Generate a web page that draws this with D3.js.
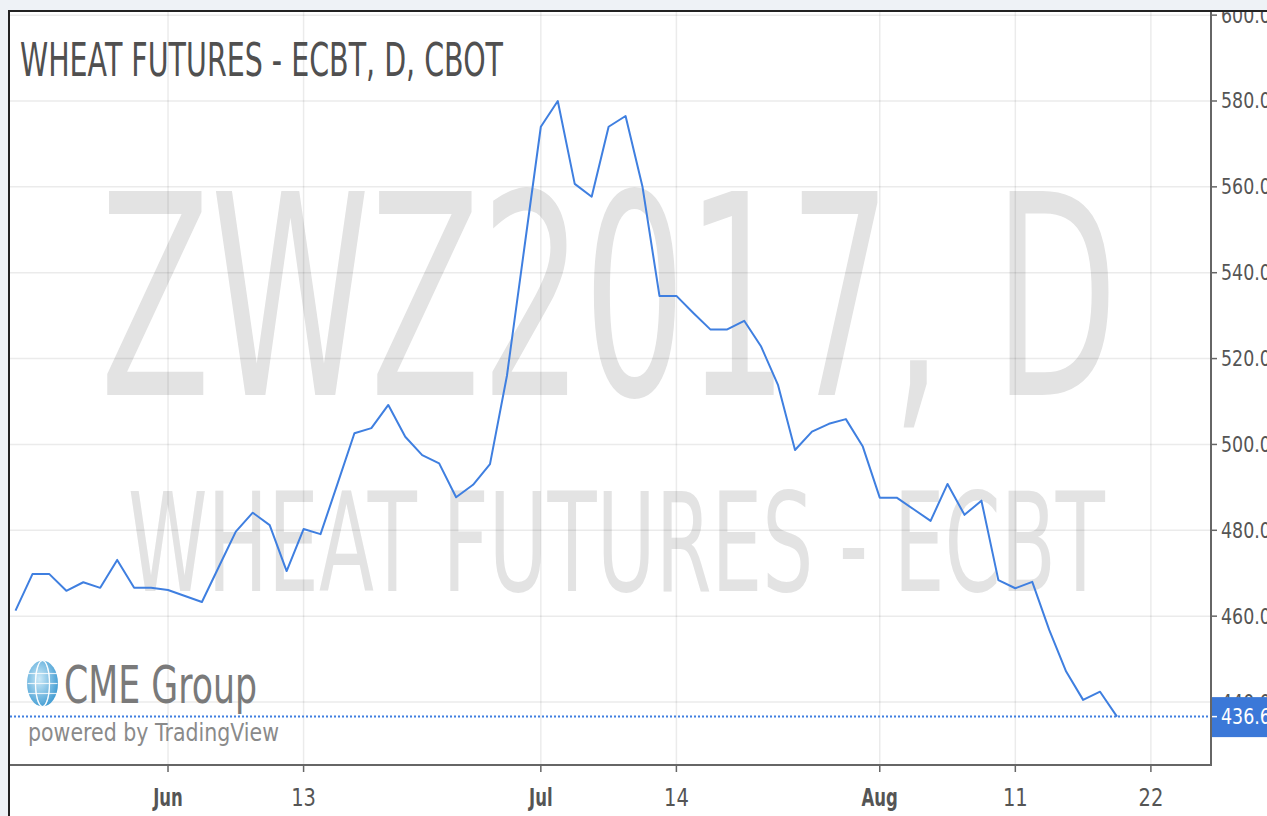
<!DOCTYPE html>
<html>
<head>
<meta charset="utf-8">
<script src="https://cdn.jsdelivr.net/npm/d3@7"></script>
<style>
  html, body { margin: 0; padding: 0; background: #fff; }
  svg { display: block; }
</style>
</head>
<body>
<div id="chart"></div>
<script>
// daily closes, one per trading session
var prices = [
  461.3, 469.8, 469.8, 465.9, 467.9, 466.6, 473.1, 466.6, 466.6, 466.1,
  464.7, 463.3, 471.5, 479.7, 484.1, 481.2, 470.5, 480.3, 479.1, 490.8,
  502.6, 503.8, 509.2, 501.8, 497.5, 495.6, 487.7, 490.6, 495.4, 516.0,
  545.0, 574.0, 580.0, 560.7, 557.7, 574.0, 576.5, 560.0, 534.6, 534.6,
  530.6, 526.8, 526.8, 528.8, 522.8, 513.8, 498.7, 503.0, 504.8, 505.9,
  499.5, 487.6, 487.6, 484.9, 482.2, 490.8, 483.6, 486.9, 468.4, 466.5,
  468.0, 456.8, 447.1, 440.5, 442.4, 436.6
];

// time axis ticks (session index) and their labels
var xTickIndex = [9, 17, 31, 39, 51, 59, 67];
var xTickLabels = ["Jun", "13", "Jul", "14", "Aug", "11", "22"];

// price axis ticks
var yTicks = [440, 460, 480, 500, 520, 540, 560, 580, 600];

var titleText = "WHEAT FUTURES - ECBT, D, CBOT",
    symbolMark = "ZWZ2017, D",
    nameMark = "WHEAT FUTURES - ECBT";

var W = 1267, H = 816;
var plot = {left: 10, top: 12, right: 1211, bottom: 765};

var svg = d3.select("#chart")
            .append("svg")
              .attr("width", W)
              .attr("height", H);

var lineBlue = "#3f7fe0",
    textGray = "#555";

// page background strips
svg.append("rect")
   .attr("width", W).attr("height", H)
   .attr("fill", "#eef2f6");
svg.append("rect")
   .attr("x", plot.left).attr("y", plot.top)
   .attr("width", W - plot.left).attr("height", H - plot.top)
   .attr("fill", "#fff");

var defs = svg.append("defs");
// labels on the price scale are cut at the top frame
defs.append("clipPath")
    .attr("id", "scale-clip")
  .append("rect")
    .attr("x", plot.right).attr("y", plot.top)
    .attr("width", W - plot.right).attr("height", H - plot.top);

// scales
var x = d3.scaleLinear()
          .domain([0, prices.length - 1])
          .range([15.5, 1117]);

var y = d3.scaleLinear()
          .domain([425.33, 600.73])
          .range([plot.bottom, plot.top]);

// watermarks
svg.append("text")
   .attr("x", 100).attr("y", 395)
   .attr("font-family", "DejaVu Sans")
   .attr("font-size", 280)
   .attr("textLength", 1018)
   .attr("lengthAdjust", "spacingAndGlyphs")
   .attr("fill", "#e3e3e3")
   .text(symbolMark);

svg.append("text")
   .attr("x", 128).attr("y", 591)
   .attr("font-family", "DejaVu Sans")
   .attr("font-size", 137)
   .attr("textLength", 977)
   .attr("lengthAdjust", "spacingAndGlyphs")
   .attr("fill", "#e3e3e3")
   .text(nameMark);

// grid
var grid = svg.append("g").attr("class", "grid");

grid.selectAll(".vgrid")
    .data(xTickIndex)
  .enter().append("line")
    .attr("x1", function(d) { return x(d); })
    .attr("x2", function(d) { return x(d); })
    .attr("y1", plot.top)
    .attr("y2", plot.bottom)
    .attr("stroke", "rgba(0,0,0,0.08)")
    .attr("stroke-width", 1.5);

grid.selectAll(".hgrid")
    .data(yTicks)
  .enter().append("line")
    .attr("x1", plot.left)
    .attr("x2", plot.right)
    .attr("y1", function(d) { return y(d); })
    .attr("y2", function(d) { return y(d); })
    .attr("stroke", "rgba(0,0,0,0.08)")
    .attr("stroke-width", 1.5);

// title
svg.append("text")
   .attr("x", 20).attr("y", 76)
   .attr("font-family", "DejaVu Sans")
   .attr("font-size", 47)
   .attr("textLength", 483)
   .attr("lengthAdjust", "spacingAndGlyphs")
   .attr("fill", "#505050")
   .text(titleText);

// CME logo
var grad = defs.append("radialGradient")
               .attr("id", "globe")
               .attr("cx", "40%").attr("cy", "40%").attr("r", "65%");
grad.append("stop").attr("offset", "0%").attr("stop-color", "#cdeaf8");
grad.append("stop").attr("offset", "100%").attr("stop-color", "#3f9bd2");

var logo = svg.append("g").attr("transform", "translate(42.5,683.5)");
logo.append("ellipse")
    .attr("rx", 15.5).attr("ry", 23)
    .attr("fill", "url(#globe)");
[-10, 0, 10].forEach(function(v) {
  logo.append("line")
      .attr("x1", -15).attr("x2", 15).attr("y1", v).attr("y2", v)
      .attr("stroke", "#fff").attr("stroke-width", 1.2).attr("opacity", 0.8);
});
[-7, 7].forEach(function(v) {
  logo.append("ellipse")
      .attr("rx", Math.abs(v)).attr("ry", 23)
      .attr("fill", "none")
      .attr("stroke", "#fff").attr("stroke-width", 1.2).attr("opacity", 0.8);
});

svg.append("text")
   .attr("x", 64).attr("y", 703)
   .attr("font-family", "DejaVu Sans")
   .attr("font-size", 51)
   .attr("textLength", 193)
   .attr("lengthAdjust", "spacingAndGlyphs")
   .attr("fill", "#7a7a7a")
   .text("CME Group");

svg.append("text")
   .attr("x", 28).attr("y", 741)
   .attr("font-family", "DejaVu Sans")
   .attr("font-size", 25)
   .attr("textLength", 251)
   .attr("lengthAdjust", "spacingAndGlyphs")
   .attr("fill", "#8a8a8a")
   .text("powered by TradingView");

// price series
var line = d3.line()
             .x(function(d, i) { return x(i); })
             .y(function(d) { return y(d); });

svg.append("path")
   .datum(prices)
   .attr("d", line)
   .attr("fill", "none")
   .attr("stroke", lineBlue)
   .attr("stroke-width", 2)
   .attr("stroke-linejoin", "round");

// last price dotted line
var last = prices[prices.length - 1];
svg.append("line")
   .attr("x1", plot.left).attr("x2", plot.right)
   .attr("y1", y(last)).attr("y2", y(last))
   .attr("stroke", lineBlue)
   .attr("stroke-width", 2)
   .attr("stroke-dasharray", "2,2");

// right price axis
var yAxis = svg.append("g")
               .attr("class", "axis axis-y")
               .attr("clip-path", "url(#scale-clip)");

var yTick = yAxis.selectAll(".tick")
                 .data(yTicks)
               .enter().append("g")
                 .attr("class", "tick")
                 .attr("transform", function(d) { return "translate(" + plot.right + "," + y(d) + ")"; });
yTick.append("line")
     .attr("x1", 0).attr("x2", 6)
     .attr("stroke", "#666").attr("stroke-width", 1.5);
yTick.append("text")
     .attr("transform", "translate(10,7.5) scale(0.85,1)")
     .attr("font-family", "DejaVu Sans")
     .attr("font-size", 20.5)
     .attr("fill", textGray)
     .text(function(d) { return d.toFixed(1); });

// last price label
var tag = yAxis.append("g").attr("transform", "translate(" + plot.right + "," + y(last) + ")");
tag.append("rect")
   .attr("x", 0).attr("y", -19.5)
   .attr("width", W - plot.right).attr("height", 40)
   .attr("fill", "#3b78d8");
tag.append("line")
   .attr("x1", 0).attr("x2", 6)
   .attr("stroke", "#fff").attr("stroke-width", 1.5);
tag.append("text")
   .attr("transform", "translate(10,7.5) scale(0.85,1)")
   .attr("font-family", "DejaVu Sans")
   .attr("font-size", 20.5)
   .attr("fill", "#fff")
   .text(last.toFixed(1));

svg.append("line")
   .attr("x1", plot.right).attr("x2", plot.right)
   .attr("y1", plot.top).attr("y2", plot.bottom + 1)
   .attr("stroke", "#666").attr("stroke-width", 2);

// frame lines
svg.append("line")
   .attr("x1", plot.left).attr("x2", W)
   .attr("y1", plot.top - 1).attr("y2", plot.top - 1)
   .attr("stroke", "#222").attr("stroke-width", 2);
svg.append("line")
   .attr("x1", plot.left - 1).attr("x2", plot.left - 1)
   .attr("y1", plot.top - 2).attr("y2", H)
   .attr("stroke", "#222").attr("stroke-width", 2);

// bottom time axis
var xAxis = svg.append("g").attr("class", "axis axis-x");
xAxis.append("line")
     .attr("x1", plot.left).attr("x2", plot.right + 1)
     .attr("y1", plot.bottom).attr("y2", plot.bottom)
     .attr("stroke", "#666").attr("stroke-width", 2);

var xTick = xAxis.selectAll(".tick")
                 .data(xTickIndex)
               .enter().append("g")
                 .attr("class", "tick")
                 .attr("transform", function(d) { return "translate(" + x(d) + "," + plot.bottom + ")"; });
xTick.append("line")
     .attr("y1", 0).attr("y2", 7)
     .attr("stroke", "#666").attr("stroke-width", 1.5);
xTick.append("text")
     .attr("transform", function(d, i) {
       var bold = isNaN(+xTickLabels[i]);
       return "translate(0,41) scale(" + (bold ? 0.66 : 0.78) + ",1)";
     })
     .attr("text-anchor", "middle")
     .attr("font-family", "DejaVu Sans")
     .attr("font-size", 25)
     .attr("font-weight", function(d, i) { return isNaN(+xTickLabels[i]) ? "bold" : "normal"; })
     .attr("fill", textGray)
     .text(function(d, i) { return xTickLabels[i]; });
</script>
</body>
</html>
